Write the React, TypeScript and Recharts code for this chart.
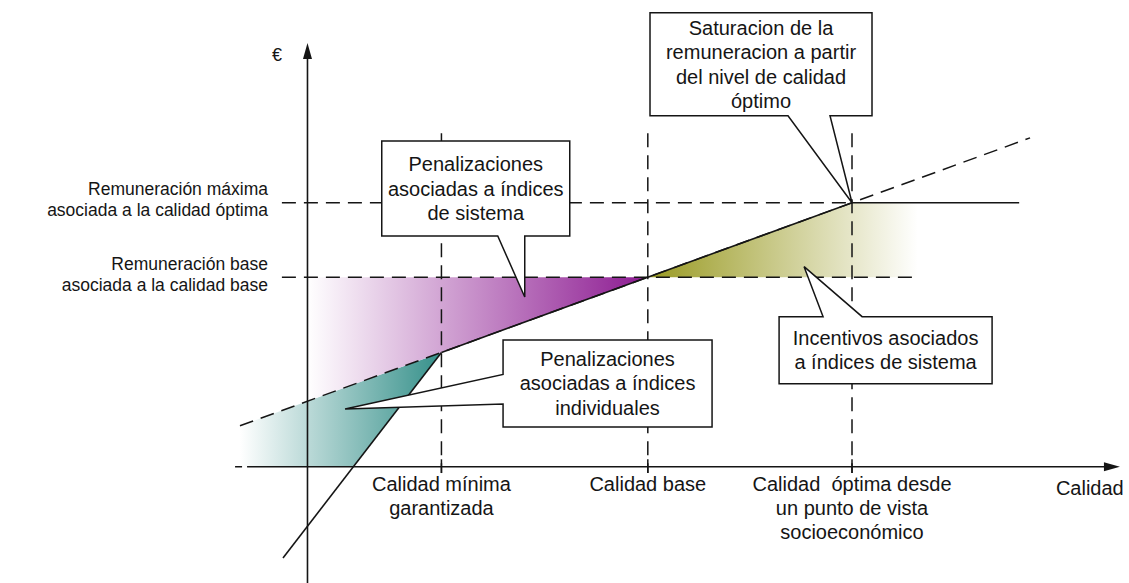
import React from "react";
import {
  ComposedChart,
  XAxis,
  YAxis,
  Area,
  Line,
  ReferenceLine,
  ReferenceDot,
} from "recharts";

// quality (x) and € (y) units: origin where the axes cross
const qualityLevels = [2.46, 6.25, 10]; // mínima garantizada, base, óptima
const remunerationLevels = [7.18, 10]; // base, máxima

const remunerationDashed = [
  { q: -1.24, eur: 1.55 },
  { q: 13.27, eur: 12.46 },
];
const remunerationSolid = [
  { q: 2.46, eur: 4.33 },
  { q: 10, eur: 10 },
  { q: 13.07, eur: 10 },
];
const individualLine = [
  { q: -0.45, eur: -3.46 },
  { q: 2.46, eur: 4.33 },
];

// shaded bands as [low, high]
const individualPenaltyBand = [
  { q: -1.24, band: [0, 1.55] },
  { q: 0.85, band: [0, 3.12] },
  { q: 2.46, band: [4.33, 4.33] },
];
const systemPenaltyBand = [
  { q: 0, band: [2.48, 7.18] },
  { q: 2.46, band: [4.33, 7.18] },
  { q: 6.25, band: [7.18, 7.18] },
];
const incentiveBand = [
  { q: 6.25, band: [7.18, 7.18] },
  { q: 10, band: [7.18, 10] },
  { q: 11.21, band: [7.18, 10] },
];

const xTickLabels = [
  ["Calidad mínima", "garantizada"],
  ["Calidad base"],
  ["Calidad  óptima desde", "un punto de vista", "socioeconómico"],
];
const yTickLabels = [
  ["Remuneración base", "asociada a la calidad base"],
  ["Remuneración máxima", "asociada a la calidad óptima"],
];

const calloutTexts = [
  ["Saturacion de la", "remuneracion a partir", "del nivel de calidad", "óptimo"],
  ["Penalizaciones", "asociadas a índices", "de sistema"],
  ["Penalizaciones", "asociadas a índices", "individuales"],
  ["Incentivos asociados", "a índices de sistema"],
];
const calloutTargets = [
  { q: 10, eur: 10 },
  { q: 3.99, eur: 6.43 },
  { q: 0.69, eur: 2.19 },
  { q: 9.12, eur: 7.58 },
];

const FONT = "'Liberation Sans', Arial, sans-serif";
const INK = "#151515";
const DASH = "14 8";

// box geometry in px relative to the pointer tip
const calloutBoxes = [
  { dx: -202, dy: -190, w: 222, h: 103, side: "bottom", b1: -64, b2: -22 },
  { dx: -143, dy: -156, w: 188, h: 95, side: "bottom", b1: -27, b2: 0 },
  { dx: 158, dy: -69, w: 209, h: 87, side: "left", b1: -34.5, b2: -5 },
  { dx: -25, dy: 50, w: 213, h: 67, side: "top", b1: 19, b2: 58 },
];

const Callout = ({ cx, cy, box, lines }: any) => {
  const L = cx + box.dx;
  const T = cy + box.dy;
  const R = L + box.w;
  const B = T + box.h;
  let pts: number[][];
  if (box.side === "bottom")
    pts = [[L, T], [R, T], [R, B], [cx + box.b2, B], [cx, cy], [cx + box.b1, B], [L, B]];
  else if (box.side === "top")
    pts = [[L, T], [cx + box.b1, T], [cx, cy], [cx + box.b2, T], [R, T], [R, B], [L, B]];
  else
    pts = [[L, T], [R, T], [R, B], [L, B], [L, cy + box.b2], [cx, cy], [L, cy + box.b1]];
  const midX = (L + R) / 2;
  const midY = (T + B) / 2;
  const lh = 24.5;
  return (
    <g>
      <polygon
        points={pts.map((p) => p.join(",")).join(" ")}
        fill="#fff"
        stroke={INK}
        strokeWidth={1.5}
        strokeLinejoin="miter"
      />
      {lines.map((t: string, i: number) => (
        <text
          key={i}
          x={midX}
          y={midY + (i - (lines.length - 1) / 2) * lh + 7}
          textAnchor="middle"
          fontFamily={FONT}
          fontSize={20}
          fill={INK}
        >
          {t}
        </text>
      ))}
    </g>
  );
};

const TextBlock = ({ x, y, lines, anchor, size, lh }: any) => (
  <g>
    {lines.map((t: string, i: number) => (
      <text
        key={i}
        x={x}
        y={y + i * lh}
        textAnchor={anchor}
        fontFamily={FONT}
        fontSize={size}
        fill={INK}
        style={{ whiteSpace: "pre" }}
      >
        {t}
      </text>
    ))}
  </g>
);

export default function App() {
  const guideTop = 12.64;
  const guideBottom = -0.24;
  const guideLeft = -0.47;

  return (
    <div style={{ position: "absolute", left: 0, top: 0, background: "#fff" }}>
      <ComposedChart width={1129} height={583} margin={{ top: 0, right: 0, bottom: 0, left: 0 }}>
        <defs>
          <linearGradient id="tealGrad" x1="0" y1="0" x2="1" y2="0">
            <stop offset="0%" stopColor="#ffffff" />
            <stop offset="100%" stopColor="#35908a" />
          </linearGradient>
          <linearGradient id="purpleGrad" x1="0" y1="0" x2="1" y2="0">
            <stop offset="0%" stopColor="#ffffff" />
            <stop offset="100%" stopColor="#8c1a91" />
          </linearGradient>
          <linearGradient id="oliveGrad" x1="0" y1="0" x2="1" y2="0">
            <stop offset="0%" stopColor="#999a22" />
            <stop offset="100%" stopColor="#ffffff" />
          </linearGradient>
        </defs>
        <XAxis type="number" dataKey="q" domain={[-5.647, 15.087]} allowDataOverflow hide />
        <YAxis type="number" domain={[-4.407, 17.685]} allowDataOverflow hide />

        <Area data={individualPenaltyBand} dataKey="band" type="linear" stroke="none" fill="url(#tealGrad)" fillOpacity={1} dot={false} activeDot={false} isAnimationActive={false} />
        <Area data={systemPenaltyBand} dataKey="band" type="linear" stroke="none" fill="url(#purpleGrad)" fillOpacity={1} dot={false} activeDot={false} isAnimationActive={false} />
        <Area data={incentiveBand} dataKey="band" type="linear" stroke="none" fill="url(#oliveGrad)" fillOpacity={1} dot={false} activeDot={false} isAnimationActive={false} />

        {/* guides */}
        {qualityLevels.map((q) => (
          <ReferenceLine key={`v${q}`} segment={[{ x: q, y: guideTop }, { x: q, y: guideBottom }]} stroke={INK} strokeWidth={1.5} strokeDasharray={DASH} />
        ))}
        {qualityLevels.map((q) => (
          <ReferenceLine key={`t${q}`} segment={[{ x: q, y: 0.28 }, { x: q, y: guideBottom }]} stroke={INK} strokeWidth={1.5} />
        ))}
        <ReferenceLine segment={[{ x: guideLeft, y: remunerationLevels[1] }, { x: qualityLevels[2], y: remunerationLevels[1] }]} stroke={INK} strokeWidth={1.5} strokeDasharray={DASH} />
        <ReferenceLine segment={[{ x: guideLeft, y: remunerationLevels[0] }, { x: 11.21, y: remunerationLevels[0] }]} stroke={INK} strokeWidth={1.5} strokeDasharray={DASH} />

        {/* axes */}
        <ReferenceLine segment={[{ x: -1.33, y: 0 }, { x: 14.66, y: 0 }]} stroke={INK} strokeWidth={1.6} strokeDasharray="7 5 2000" />
        <ReferenceLine segment={[{ x: 0, y: -4.407 }, { x: 0, y: 15.45 }]} stroke={INK} strokeWidth={1.6} />

        <Line data={remunerationDashed} dataKey="eur" type="linear" stroke={INK} strokeWidth={1.5} strokeDasharray={DASH} dot={false} activeDot={false} isAnimationActive={false} />
        <Line data={remunerationSolid} dataKey="eur" type="linear" stroke={INK} strokeWidth={1.6} dot={false} activeDot={false} isAnimationActive={false} />
        <Line data={individualLine} dataKey="eur" type="linear" stroke={INK} strokeWidth={1.6} dot={false} activeDot={false} isAnimationActive={false} />

        {/* arrow heads and axis titles */}
        <ReferenceDot
          x={0}
          y={16.06}
          r={1}
          shape={(p: any) => (
            <g>
              <polygon points={`${p.cx},${p.cy} ${p.cx - 4.5},${p.cy + 16} ${p.cx + 4.5},${p.cy + 16}`} fill={INK} />
              <TextBlock x={p.cx - 30.5} y={p.cy + 18} lines={["€"]} anchor="middle" size={18} lh={0} />
            </g>
          )}
        />
        <ReferenceDot
          x={14.92}
          y={0}
          r={1}
          shape={(p: any) => (
            <g>
              <polygon points={`${p.cx},${p.cy} ${p.cx - 16},${p.cy - 4.5} ${p.cx - 16},${p.cy + 4.5}`} fill={INK} />
              <TextBlock x={p.cx - 64} y={p.cy + 28} lines={["Calidad"]} anchor="start" size={20} lh={0} />
            </g>
          )}
        />

        {/* tick labels */}
        {qualityLevels.map((q, i) => (
          <ReferenceDot
            key={`xl${i}`}
            x={q}
            y={0}
            r={1}
            shape={(p: any) => <TextBlock x={p.cx} y={p.cy + 24.3} lines={xTickLabels[i]} anchor="middle" size={20} lh={24} />}
          />
        ))}
        {remunerationLevels.map((v, i) => (
          <ReferenceDot
            key={`yl${i}`}
            x={0}
            y={v}
            r={1}
            shape={(p: any) => <TextBlock x={p.cx - 39.5} y={p.cy - 7.5} lines={yTickLabels[i]} anchor="end" size={17.5} lh={21} />}
          />
        ))}

        {/* callouts */}
        {calloutTargets.map((t, i) => (
          <ReferenceDot
            key={`c${i}`}
            x={t.q}
            y={t.eur}
            r={1}
            shape={(p: any) => <Callout cx={p.cx} cy={p.cy} box={calloutBoxes[i]} lines={calloutTexts[i]} />}
          />
        ))}
      </ComposedChart>
    </div>
  );
}
